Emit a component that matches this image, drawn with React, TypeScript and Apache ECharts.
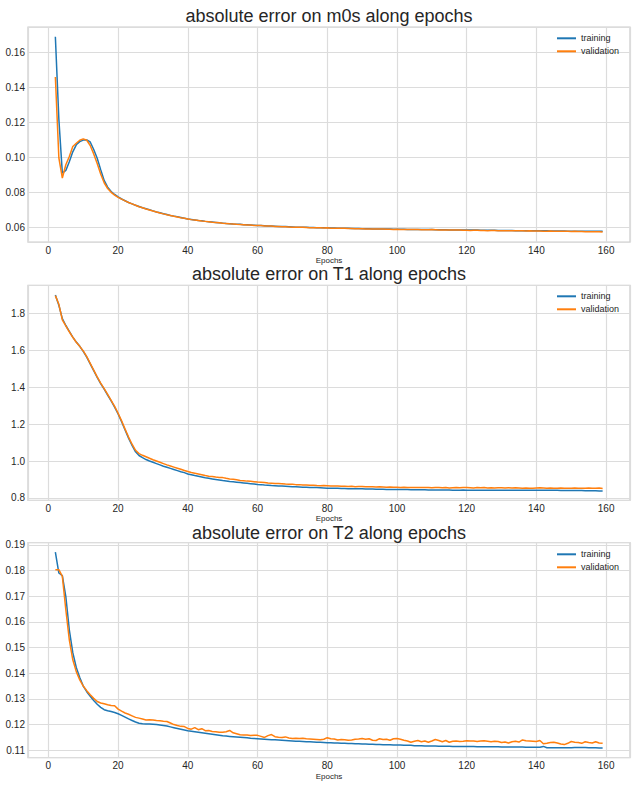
import React, { useEffect, useRef } from "react";
import * as echarts from "echarts";

const epochs: number[] = Array.from({ length: 158 }, (_, i) => i + 2);

const xTicks = [0, 20, 40, 60, 80, 100, 120, 140, 160];

const titles = [
  "absolute error on m0s along epochs",
  "absolute error on T1 along epochs",
  "absolute error on T2 along epochs",
];

const seriesNames = ["training", "validation"];

// m0s
const m0sTrain = [
  0.1690, 0.1220, 0.0910, 0.0925, 0.0975, 0.1032, 0.1072, 0.1090, 0.1099, 0.1100,
  0.1088, 0.1045, 0.0995, 0.0930, 0.0868, 0.0830, 0.0805, 0.0788, 0.0774, 0.0762,
  0.0752, 0.0742, 0.0734, 0.0726, 0.0719, 0.0712, 0.0706, 0.0700, 0.0694, 0.0688,
  0.0683, 0.0678, 0.0673, 0.0668, 0.0664, 0.0660, 0.0656, 0.0652, 0.0648, 0.0645,
  0.0642, 0.0639, 0.0637, 0.0634, 0.0632, 0.0630, 0.0628, 0.0626, 0.0624, 0.0622,
  0.0621, 0.0619, 0.0618, 0.0617, 0.0615, 0.0614, 0.0613, 0.0612, 0.0611, 0.0610,
  0.0609, 0.0608, 0.0607, 0.0606, 0.0605, 0.0604, 0.0604, 0.0603, 0.0602, 0.0601,
  0.0601, 0.0600, 0.0600, 0.0599, 0.0599, 0.0598, 0.0598, 0.0597, 0.0597, 0.0596,
  0.0596, 0.0595, 0.0595, 0.0594, 0.0594, 0.0593, 0.0593, 0.0593, 0.0592, 0.0592,
  0.0592, 0.0591, 0.0591, 0.0591, 0.0590, 0.0590, 0.0590, 0.0589, 0.0589, 0.0589,
  0.0589, 0.0588, 0.0588, 0.0588, 0.0588, 0.0587, 0.0587, 0.0587, 0.0587, 0.0586,
  0.0586, 0.0586, 0.0586, 0.0585, 0.0585, 0.0585, 0.0585, 0.0584, 0.0584, 0.0584,
  0.0584, 0.0584, 0.0583, 0.0583, 0.0583, 0.0583, 0.0583, 0.0582, 0.0582, 0.0582,
  0.0582, 0.0582, 0.0581, 0.0581, 0.0581, 0.0581, 0.0581, 0.0580, 0.0580, 0.0580,
  0.0580, 0.0580, 0.0579, 0.0579, 0.0579, 0.0579, 0.0579, 0.0578, 0.0578, 0.0578,
  0.0578, 0.0578, 0.0578, 0.0577, 0.0577, 0.0577, 0.0577, 0.0577,
];
const m0sVal = [
  0.1460, 0.0998, 0.0882, 0.0958, 0.1005, 0.1062, 0.1081, 0.1098, 0.1106, 0.1098,
  0.1068, 0.1020, 0.0965, 0.0905, 0.0855, 0.0822, 0.0800, 0.0784, 0.0771, 0.0761,
  0.0751, 0.0742, 0.0734, 0.0726, 0.0718, 0.0712, 0.0705, 0.0699, 0.0693, 0.0688,
  0.0682, 0.0677, 0.0672, 0.0668, 0.0663, 0.0659, 0.0655, 0.0652, 0.0648, 0.0644,
  0.0642, 0.0639, 0.0636, 0.0634, 0.0632, 0.0629, 0.0628, 0.0626, 0.0623, 0.0622,
  0.0620, 0.0619, 0.0617, 0.0616, 0.0615, 0.0613, 0.0613, 0.0611, 0.0610, 0.0610,
  0.0608, 0.0607, 0.0607, 0.0605, 0.0605, 0.0603, 0.0603, 0.0602, 0.0601, 0.0601,
  0.0600, 0.0600, 0.0599, 0.0598, 0.0598, 0.0598, 0.0597, 0.0596, 0.0597, 0.0595,
  0.0595, 0.0595, 0.0594, 0.0594, 0.0593, 0.0593, 0.0592, 0.0592, 0.0592, 0.0591,
  0.0591, 0.0591, 0.0590, 0.0590, 0.0590, 0.0589, 0.0589, 0.0588, 0.0589, 0.0588,
  0.0588, 0.0587, 0.0588, 0.0587, 0.0587, 0.0586, 0.0586, 0.0586, 0.0587, 0.0586,
  0.0585, 0.0585, 0.0585, 0.0584, 0.0584, 0.0585, 0.0584, 0.0583, 0.0583, 0.0582,
  0.0583, 0.0583, 0.0582, 0.0582, 0.0581, 0.0582, 0.0582, 0.0581, 0.0581, 0.0581,
  0.0580, 0.0581, 0.0581, 0.0580, 0.0580, 0.0579, 0.0580, 0.0579, 0.0579, 0.0579,
  0.0578, 0.0578, 0.0579, 0.0578, 0.0578, 0.0577, 0.0577, 0.0577, 0.0576, 0.0577,
  0.0576, 0.0576, 0.0575, 0.0575, 0.0574, 0.0574, 0.0575, 0.0573,
];

// T1
const t1Train = [
  1.900, 1.845, 1.772, 1.735, 1.703, 1.672, 1.645, 1.622, 1.595, 1.563,
  1.527, 1.490, 1.453, 1.420, 1.390, 1.358, 1.326, 1.292, 1.255, 1.213,
  1.168, 1.124, 1.085, 1.050, 1.030, 1.018, 1.008, 1.000, 0.993, 0.986,
  0.979, 0.972, 0.966, 0.960, 0.954, 0.948, 0.942, 0.937, 0.930, 0.926,
  0.921, 0.917, 0.913, 0.909, 0.906, 0.903, 0.900, 0.897, 0.894, 0.892,
  0.889, 0.887, 0.885, 0.883, 0.881, 0.879, 0.877, 0.875, 0.873, 0.872,
  0.870, 0.869, 0.867, 0.866, 0.865, 0.864, 0.863, 0.862, 0.861, 0.860,
  0.859, 0.858, 0.858, 0.857, 0.856, 0.856, 0.855, 0.854, 0.853, 0.853,
  0.852, 0.852, 0.851, 0.851, 0.850, 0.850, 0.849, 0.849, 0.849, 0.848,
  0.848, 0.848, 0.847, 0.847, 0.847, 0.846, 0.846, 0.846, 0.845, 0.845,
  0.845, 0.845, 0.844, 0.844, 0.844, 0.844, 0.844, 0.843, 0.843, 0.843,
  0.843, 0.843, 0.843, 0.843, 0.842, 0.842, 0.842, 0.843, 0.842, 0.842,
  0.842, 0.842, 0.842, 0.842, 0.842, 0.842, 0.842, 0.842, 0.842, 0.842,
  0.842, 0.842, 0.842, 0.842, 0.842, 0.842, 0.842, 0.842, 0.842, 0.841,
  0.841, 0.841, 0.841, 0.841, 0.841, 0.840, 0.840, 0.840, 0.840, 0.840,
  0.840, 0.840, 0.839, 0.839, 0.839, 0.839, 0.838, 0.838,
];
const t1Val = [
  1.897, 1.850, 1.766, 1.733, 1.701, 1.671, 1.644, 1.622, 1.597, 1.566,
  1.530, 1.493, 1.456, 1.423, 1.393, 1.361, 1.329, 1.296, 1.259, 1.218,
  1.173, 1.130, 1.091, 1.058, 1.040, 1.031, 1.023, 1.015, 1.007, 1.000,
  0.993, 0.986, 0.979, 0.973, 0.967, 0.961, 0.955, 0.949, 0.943, 0.938,
  0.934, 0.930, 0.926, 0.921, 0.918, 0.916, 0.913, 0.911, 0.910, 0.906,
  0.903, 0.901, 0.898, 0.895, 0.893, 0.891, 0.890, 0.888, 0.886, 0.885,
  0.884, 0.881, 0.880, 0.878, 0.878, 0.877, 0.875, 0.874, 0.874, 0.872,
  0.872, 0.870, 0.870, 0.868, 0.869, 0.867, 0.866, 0.867, 0.866, 0.864,
  0.865, 0.864, 0.863, 0.863, 0.862, 0.863, 0.861, 0.862, 0.862, 0.860,
  0.861, 0.860, 0.859, 0.860, 0.859, 0.858, 0.859, 0.858, 0.858, 0.857,
  0.858, 0.857, 0.857, 0.856, 0.857, 0.856, 0.856, 0.857, 0.855, 0.856,
  0.856, 0.855, 0.856, 0.854, 0.855, 0.856, 0.855, 0.857, 0.856, 0.855,
  0.854, 0.856, 0.855, 0.856, 0.854, 0.855, 0.854, 0.855, 0.855, 0.854,
  0.855, 0.854, 0.855, 0.854, 0.853, 0.854, 0.852, 0.853, 0.854, 0.855,
  0.854, 0.853, 0.854, 0.853, 0.852, 0.854, 0.853, 0.852, 0.853, 0.854,
  0.853, 0.852, 0.853, 0.854, 0.852, 0.853, 0.854, 0.851,
];

// T2
const t2Train = [
  0.1871, 0.1790, 0.1780, 0.1698, 0.1569, 0.1480, 0.1422, 0.1383, 0.1350, 0.1328,
  0.1310, 0.1294, 0.1279, 0.1267, 0.1258, 0.1254, 0.1251, 0.1247, 0.1242, 0.1236,
  0.1229, 0.1222, 0.1216, 0.1210, 0.1205, 0.1203, 0.1202, 0.1202, 0.1201, 0.1200,
  0.1198, 0.1196, 0.1194, 0.1191, 0.1188, 0.1185, 0.1182, 0.1179, 0.1176, 0.1174,
  0.1172, 0.1170, 0.1168, 0.1166, 0.1164, 0.1162, 0.1160, 0.1158, 0.1156, 0.1155,
  0.1154, 0.1153, 0.1152, 0.1151, 0.1150, 0.1149, 0.1147, 0.1146, 0.1145, 0.1144,
  0.1143, 0.1142, 0.1141, 0.1141, 0.1140, 0.1139, 0.1138, 0.1137, 0.1136, 0.1135,
  0.1135, 0.1134, 0.1133, 0.1133, 0.1132, 0.1131, 0.1131, 0.1130, 0.1129, 0.1129,
  0.1128, 0.1128, 0.1127, 0.1127, 0.1126, 0.1126, 0.1125, 0.1125, 0.1124, 0.1124,
  0.1123, 0.1123, 0.1122, 0.1122, 0.1121, 0.1121, 0.1121, 0.1120, 0.1120, 0.1120,
  0.1119, 0.1119, 0.1119, 0.1118, 0.1118, 0.1118, 0.1117, 0.1117, 0.1117, 0.1117,
  0.1116, 0.1116, 0.1116, 0.1116, 0.1115, 0.1115, 0.1115, 0.1115, 0.1115, 0.1115,
  0.1115, 0.1114, 0.1114, 0.1114, 0.1114, 0.1114, 0.1114, 0.1114, 0.1113, 0.1113,
  0.1113, 0.1113, 0.1113, 0.1113, 0.1113, 0.1112, 0.1112, 0.1112, 0.1112, 0.1112,
  0.1115, 0.1110, 0.1110, 0.1110, 0.1110, 0.1110, 0.1110, 0.1110, 0.1110, 0.1111,
  0.1111, 0.1111, 0.1111, 0.1110, 0.1110, 0.1110, 0.1109, 0.1109,
];
const t2Val = [
  0.1803, 0.1803, 0.1777, 0.1647, 0.1530, 0.1452, 0.1406, 0.1374, 0.1350, 0.1332,
  0.1316, 0.1302, 0.1290, 0.1284, 0.1281, 0.1277, 0.1274, 0.1273, 0.1260, 0.1252,
  0.1245, 0.1240, 0.1234, 0.1228, 0.1225, 0.1222, 0.1218, 0.1219, 0.1218, 0.1216,
  0.1215, 0.1213, 0.1212, 0.1206, 0.1200, 0.1196, 0.1193, 0.1192, 0.1185, 0.1182,
  0.1188, 0.1180, 0.1184, 0.1176, 0.1177, 0.1173, 0.1172, 0.1170, 0.1170, 0.1172,
  0.1177, 0.1168, 0.1164, 0.1160, 0.1159, 0.1159, 0.1157, 0.1158, 0.1158, 0.1154,
  0.1150, 0.1157, 0.1161, 0.1153, 0.1151, 0.1150, 0.1152, 0.1148, 0.1146, 0.1147,
  0.1146, 0.1147, 0.1145, 0.1144, 0.1143, 0.1142, 0.1141, 0.1143, 0.1149, 0.1145,
  0.1144, 0.1140, 0.1142, 0.1141, 0.1139, 0.1140, 0.1143, 0.1144, 0.1146, 0.1143,
  0.1145, 0.1139, 0.1138, 0.1145, 0.1142, 0.1143, 0.1139, 0.1145, 0.1146, 0.1143,
  0.1139, 0.1136, 0.1131, 0.1135, 0.1138, 0.1133, 0.1136, 0.1131, 0.1136, 0.1142,
  0.1138, 0.1133, 0.1138, 0.1131, 0.1135, 0.1136, 0.1134, 0.1135, 0.1137, 0.1136,
  0.1136, 0.1134, 0.1136, 0.1137, 0.1135, 0.1133, 0.1135, 0.1134, 0.1130, 0.1132,
  0.1128, 0.1133, 0.1135, 0.1132, 0.1140, 0.1137, 0.1136, 0.1135, 0.1134, 0.1138,
  0.1125, 0.1127, 0.1130, 0.1131, 0.1128, 0.1124, 0.1122, 0.1127, 0.1134, 0.1131,
  0.1130, 0.1127, 0.1133, 0.1130, 0.1128, 0.1133, 0.1128, 0.1127,
];

const trainSets = [m0sTrain, t1Train, t2Train];
const valSets = [m0sVal, t1Val, t2Val];

const FONT = "'Liberation Sans', Arial, sans-serif";
const TEXT = "#262626";
const GRIDC = "#dcdcdc";
const BLUE = "#1f77b4";
const ORANGE = "#ff7f0e";

export default function App() {
  const ref = useRef<HTMLDivElement>(null);

  useEffect(() => {
    if (!ref.current) return;
    const chart = echarts.init(ref.current, null, { renderer: "svg" });

    const gridTops = [27, 285.3, 542.7];
    const gridHeight = 215;
    const yConf = [
      { min: 0.0516, max: 0.1746, step: 0.02, dec: 2 },
      { min: 0.787, max: 1.953, step: 0.2, dec: 1 },
      { min: 0.1071, max: 0.1908, step: 0.01, dec: 2 },
    ];
    const titleTops = [7, 265, 524];
    const legendTops = [32.3, 290.3, 548.3];

    const pairs = (vals: number[]) => vals.map((v, i) => [epochs[i], v]);

    const option: any = {
      animation: false,
      backgroundColor: "#ffffff",
      textStyle: { fontFamily: FONT },
      title: titles.map((t, i) => ({
        text: t,
        left: 329,
        top: titleTops[i],
        padding: 0,
        textAlign: "center",
        textStyle: {
          fontSize: 18,
          fontWeight: "normal",
          color: TEXT,
          fontFamily: FONT,
          lineHeight: 18,
        },
      })),
      legend: legendTops.map((top) => ({
        orient: "vertical",
        left: 557,
        top,
        padding: 0,
        itemWidth: 19,
        itemHeight: 2,
        itemGap: 1,
        icon: "rect",
        selectedMode: false,
        data: seriesNames,
        textStyle: { fontSize: 9, color: TEXT, lineHeight: 12, fontFamily: FONT },
      })),
      grid: gridTops.map((top) => ({
        left: 28,
        width: 602,
        top,
        height: gridHeight,
        show: true,
        borderColor: "#cccccc",
        borderWidth: 1.25,
        containLabel: false,
      })),
      xAxis: gridTops.map((_, i) => ({
        type: "value",
        gridIndex: i,
        min: -5.85,
        max: 166.85,
        splitNumber: 8,
        minInterval: 20,
        maxInterval: 20,
        axisLine: { show: false },
        axisTick: { show: false },
        axisLabel: {
          showMinLabel: false,
          showMaxLabel: false,
          fontSize: 10,
          color: TEXT,
          margin: 3,
          fontFamily: FONT,
          formatter: (v: number) => (xTicks.includes(Math.round(v)) ? String(Math.round(v)) : ""),
        },
        splitLine: { show: true, lineStyle: { color: GRIDC, width: 1.2 } },
        name: "Epochs",
        nameLocation: "middle",
        nameGap: 10,
        nameTextStyle: { fontSize: 8, color: TEXT, fontFamily: FONT, lineHeight: 9 },
      })),
      yAxis: yConf.map((c, i) => ({
        type: "value",
        gridIndex: i,
        min: c.min,
        max: c.max,
        splitNumber: 6,
        minInterval: c.step,
        maxInterval: c.step,
        axisLine: { show: false },
        axisTick: { show: false },
        axisLabel: {
          showMinLabel: false,
          showMaxLabel: false,
          fontSize: 10,
          color: TEXT,
          margin: 3,
          fontFamily: FONT,
          formatter: (v: number) => v.toFixed(c.dec),
        },
        splitLine: { show: true, lineStyle: { color: GRIDC, width: 1.2 } },
      })),
      series: [0, 1, 2].flatMap((i) => [
        {
          name: seriesNames[0],
          type: "line",
          xAxisIndex: i,
          yAxisIndex: i,
          data: pairs(trainSets[i]),
          showSymbol: false,
          symbol: "none",
          color: BLUE,
          lineStyle: { width: 1.5, color: BLUE },
        },
        {
          name: seriesNames[1],
          type: "line",
          xAxisIndex: i,
          yAxisIndex: i,
          data: pairs(valSets[i]),
          showSymbol: false,
          symbol: "none",
          color: ORANGE,
          lineStyle: { width: 1.5, color: ORANGE },
        },
      ]),
    };

    chart.setOption(option);
    return () => chart.dispose();
  }, []);

  return (
    <div
      ref={ref}
      style={{ position: "absolute", left: 0, top: 0, width: 642, height: 798 }}
    />
  );
}
